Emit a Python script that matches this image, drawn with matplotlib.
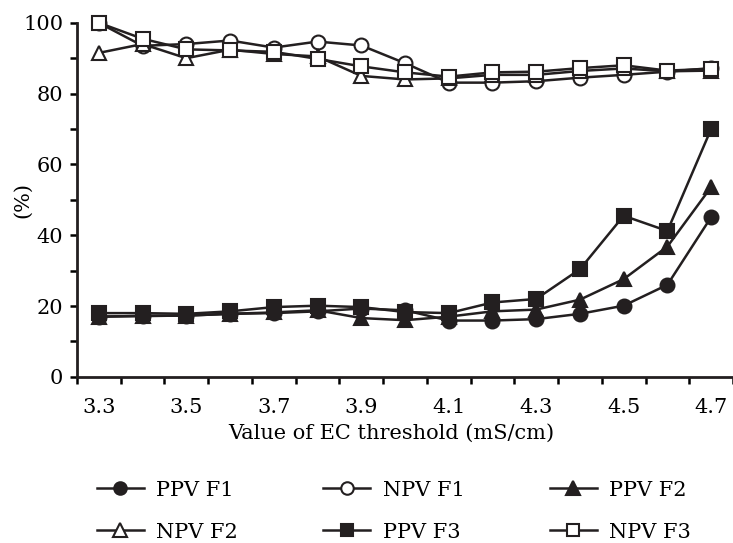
import matplotlib

matplotlib.use("Agg")

import matplotlib.pyplot as plt
import numpy as np

plt.rcParams["font.family"] = ["DejaVu Serif"]
plt.rcParams["font.size"] = 15

# EC thresholds (mS/cm)
thresholds = [3.3, 3.4, 3.5, 3.6, 3.7, 3.8, 3.9, 4.0, 4.1, 4.2, 4.3, 4.4, 4.5, 4.6, 4.7]

ppv_f1 = [17.0, 17.2, 17.3, 17.8, 18.0, 18.5, 19.3, 18.8, 15.9, 15.9, 16.3, 17.8, 20.1, 26.0, 45.1]
npv_f1 = [100.0, 93.5, 94.0, 95.0, 93.0, 94.7, 93.6, 88.6, 83.1, 83.1, 83.5, 84.5, 85.3, 86.2, 87.2]
ppv_f2 = [17.0, 17.2, 17.3, 17.8, 18.2, 18.8, 16.6, 16.0, 17.0, 18.5, 19.0, 21.8, 27.6, 36.8, 53.6]
npv_f2 = [91.5, 94.0, 90.0, 92.4, 91.2, 90.5, 85.0, 84.0, 84.3, 85.3, 85.3, 86.4, 87.1, 86.3, 86.5]
ppv_f3 = [18.0, 18.0, 17.8, 18.5, 19.7, 20.1, 19.7, 18.3, 18.0, 21.0, 22.0, 30.4, 45.5, 41.2, 70.0]
npv_f3 = [100.0, 95.5, 92.5, 92.2, 91.8, 89.8, 87.7, 86.0, 84.8, 86.0, 86.2, 87.2, 88.0, 86.5, 87.0]

series = [
    ("PPV F1", ppv_f1, "o", "#231f20"),
    ("NPV F1", npv_f1, "o", "white"),
    ("PPV F2", ppv_f2, "^", "#231f20"),
    ("NPV F2", npv_f2, "^", "white"),
    ("PPV F3", ppv_f3, "s", "#231f20"),
    ("NPV F3", npv_f3, "s", "white"),
]

fig = plt.figure(figsize=(7.33, 5.43), dpi=100)
ax = fig.add_axes([0.105, 0.306, 0.895, 0.652])

handles = []
for label, values, marker, face in series:
    (line,) = ax.plot(
        thresholds,
        values,
        color="#231f20",
        linewidth=1.8,
        marker=marker,
        markersize=10 if marker != "^" else 10.5,
        markerfacecolor=face,
        markeredgecolor="#231f20",
        markeredgewidth=1.5,
        label=label,
        clip_on=False,
    )
    handles.append(line)

ax.set_xlim(3.25, 4.75)
ax.set_ylim(0, 100)

# tick marks between points, labels on every other point
ax.set_xticks(np.arange(3.25, 4.76, 0.1))
ax.set_xticklabels([])
ax.set_xticks(thresholds[::2], minor=True)
ax.set_xticklabels([f"{t:.1f}" for t in thresholds[::2]], minor=True)
ax.tick_params(axis="x", which="minor", length=0, pad=15)
ax.tick_params(axis="x", which="major", length=5, width=1.8, direction="out")

ax.set_yticks(np.arange(0, 101, 20))
ax.set_yticks(np.arange(10, 100, 20), minor=True)
ax.tick_params(axis="y", which="both", length=5, width=1.8, direction="out", pad=5)

for side in ["top", "right"]:
    ax.spines[side].set_visible(False)
for side in ["left", "bottom"]:
    ax.spines[side].set_linewidth(2)
    ax.spines[side].set_color("#231f20")

ax.set_xlabel("Value of EC threshold (mS/cm)")
ax.xaxis.set_label_coords(0.479, -0.133)
ax.set_ylabel("(%)")
ax.yaxis.set_label_coords(-0.069, 0.5)

# legend filled row by row
order = [0, 3, 1, 4, 2, 5]
fig.legend(
    [handles[i] for i in order],
    [handles[i].get_label() for i in order],
    loc="upper center",
    bbox_to_anchor=(0.5375, 0.134),
    ncol=3,
    frameon=False,
    borderpad=0,
    handlelength=2.25,
    handletextpad=0.6,
    columnspacing=4.1,
    labelspacing=1.1,
    markerscale=0.9,
)

plt.savefig("out.png", dpi=100)
plt.close()
